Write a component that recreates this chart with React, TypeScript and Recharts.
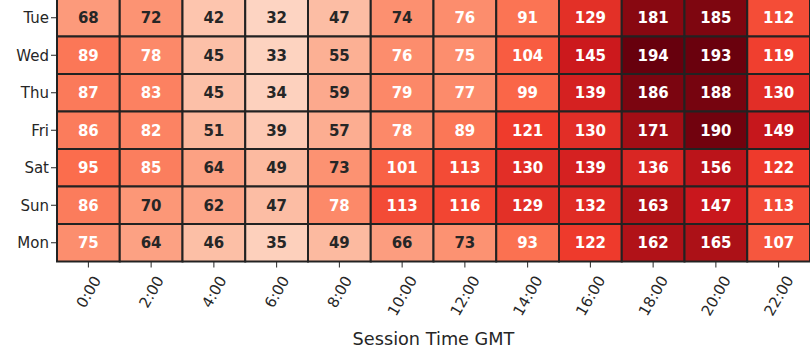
import { Scatter, ScatterChart, XAxis, YAxis } from "recharts";

// Session counts by weekday (rows) and GMT hour (columns)
const DAYS = ["Tue", "Wed", "Thu", "Fri", "Sat", "Sun", "Mon"];
const HOURS = ["0:00", "2:00", "4:00", "6:00", "8:00", "10:00", "12:00", "14:00", "16:00", "18:00", "20:00", "22:00"];

const TUE = [68, 72, 42, 32, 47, 74, 76, 91, 129, 181, 185, 112];
const WED = [89, 78, 45, 33, 55, 76, 75, 104, 145, 194, 193, 119];
const THU = [87, 83, 45, 34, 59, 79, 77, 99, 139, 186, 188, 130];
const FRI = [86, 82, 51, 39, 57, 78, 89, 121, 130, 171, 190, 149];
const SAT = [95, 85, 64, 49, 73, 101, 113, 130, 139, 136, 156, 122];
const SUN = [86, 70, 62, 47, 78, 113, 116, 129, 132, 163, 147, 113];
const MON = [75, 64, 46, 35, 49, 66, 73, 93, 122, 162, 165, 107];

const ROWS = [TUE, WED, THU, FRI, SAT, SUN, MON];

const WIDTH = 810;
const HEIGHT = 361;
const MARGIN = { top: 0, right: 0, left: 0, bottom: 0 };
const Y_AXIS_W = 57;
const X_AXIS_H = 98.5;
const CELL_W = (WIDTH - Y_AXIS_W) / HOURS.length;
const CELL_H = (HEIGHT - X_AXIS_H) / DAYS.length;
const INK = "#262626";
const FONT = "'DejaVu Sans', sans-serif";
const TICK_SIZE = 15;

// matplotlib "Reds"
const REDS = ["#fff5f0", "#fee0d2", "#fcbba1", "#fc9272", "#fb6a4a", "#ef3b2c", "#cb181d", "#a50f15", "#67000d"];
const VMIN = 0;
const VMAX = Math.max(...ROWS.flat());

function hexRgb(h: string): number[] {
  return [1, 3, 5].map((i) => parseInt(h.slice(i, i + 2), 16));
}

function redsRgb(v: number): number[] {
  const t = Math.min(1, Math.max(0, (v - VMIN) / (VMAX - VMIN)));
  const pos = t * (REDS.length - 1);
  const i = Math.min(REDS.length - 2, Math.floor(pos));
  const f = pos - i;
  const a = hexRgb(REDS[i]);
  const b = hexRgb(REDS[i + 1]);
  return a.map((c, k) => Math.round(c + (b[k] - c) * f));
}

function luminance(rgb: number[]): number {
  const lin = rgb.map((c) => {
    const s = c / 255;
    return s <= 0.03928 ? s / 12.92 : Math.pow((s + 0.055) / 1.055, 2.4);
  });
  return 0.2126 * lin[0] + 0.7152 * lin[1] + 0.0722 * lin[2];
}

const cells = ROWS.flatMap((row, r) =>
  row.map((value, c) => ({ x: c + 0.5, y: r + 0.5, value })),
);

function HeatCell(props: any) {
  const { cx, cy, payload } = props;
  const rgb = redsRgb(payload.value);
  const fill = `rgb(${rgb.join(",")})`;
  const textColor = luminance(rgb) > 0.415 ? INK : "#ffffff";
  return (
    <g>
      <rect
        x={cx - CELL_W / 2}
        y={cy - CELL_H / 2}
        width={CELL_W}
        height={CELL_H}
        fill={fill}
        stroke="#222222"
        strokeWidth={2}
      />
      <text
        x={cx}
        y={cy}
        dy="0.36em"
        textAnchor="middle"
        fill={textColor}
        fontSize={15}
        fontWeight="bold"
        fontFamily={FONT}
      >
        {payload.value}
      </text>
    </g>
  );
}

function HourTick(props: any) {
  const { x, y, payload } = props;
  const label = HOURS[Math.floor(payload.value)] ?? "";
  const w = [...label].reduce((s, ch) => s + (ch === ":" ? 0.337 : 0.636), 0) * TICK_SIZE * 0.93;
  const capH = TICK_SIZE * 0.73;
  const top = y + 6;
  const cy = top + (w * Math.sin(Math.PI / 3) + capH * 0.5) / 2;
  return (
    <g transform={`translate(${x},${cy}) rotate(-60)`}>
      <text x={0} y={0} dy="0.36em" textAnchor="middle" fill={INK} fontSize={TICK_SIZE} fontFamily={FONT}>
        {label}
      </text>
    </g>
  );
}

export default function App() {
  return (
    <div style={{ position: "absolute", left: 0, top: -1, width: WIDTH, height: HEIGHT, fontFamily: FONT }}>
      <ScatterChart width={WIDTH} height={HEIGHT} margin={MARGIN}>
        <XAxis
          type="number"
          dataKey="x"
          domain={[0, HOURS.length]}
          ticks={HOURS.map((_, i) => i + 0.5)}
          interval={0}
          height={X_AXIS_H}
          axisLine={false}
          tickLine={{ stroke: INK }}
          tick={<HourTick />}
          label={{
            value: "Session Time GMT",
            position: "insideBottom",
            offset: 15,
            fill: INK,
            fontSize: 17.7,
            fontFamily: FONT,
          }}
        />
        <YAxis
          type="number"
          dataKey="y"
          domain={[0, DAYS.length]}
          ticks={DAYS.map((_, i) => i + 0.5)}
          interval={0}
          reversed
          width={Y_AXIS_W}
          axisLine={false}
          tickLine={{ stroke: INK }}
          tick={{ fill: INK, fontSize: TICK_SIZE, fontFamily: FONT }}
          tickFormatter={(v: number) => DAYS[Math.floor(v)]}
        />
        <Scatter data={cells} shape={HeatCell} isAnimationActive={false} />
      </ScatterChart>
    </div>
  );
}
